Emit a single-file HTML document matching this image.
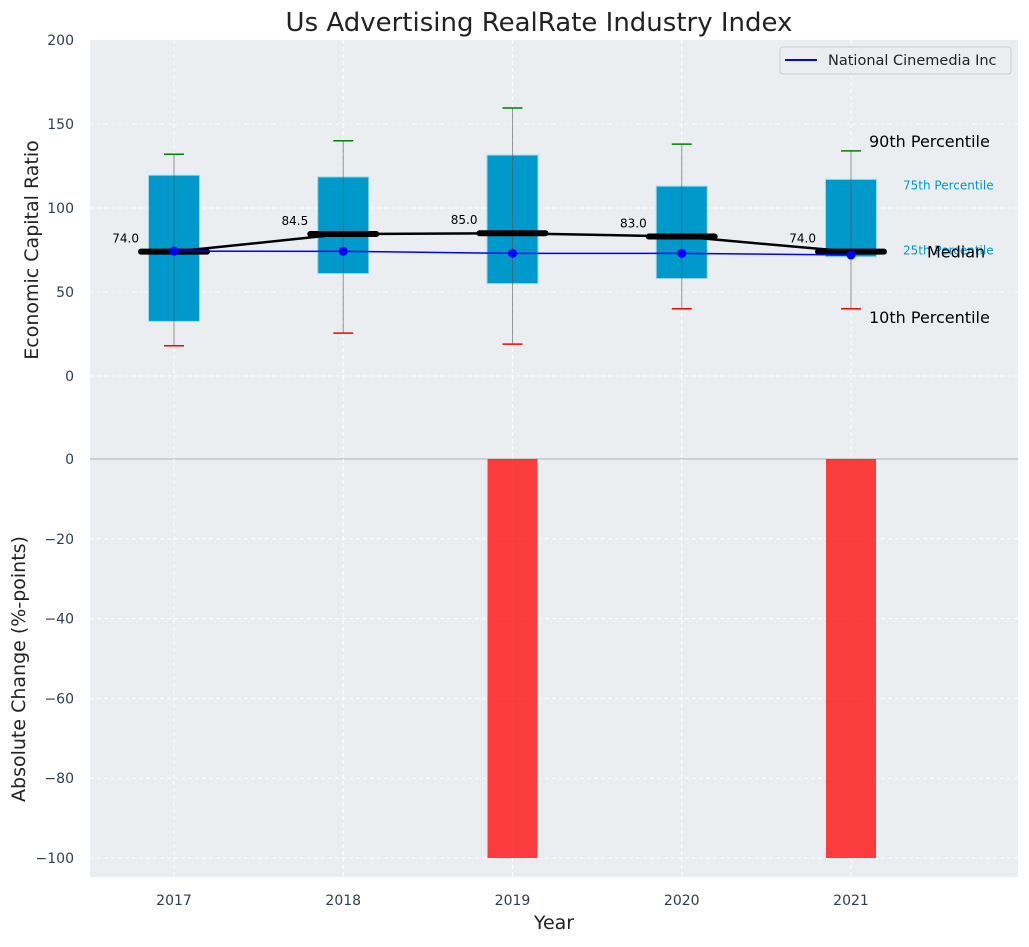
<!DOCTYPE html>
<html><head><meta charset="utf-8"><style>
body{margin:0;background:#fff;font-family:"Liberation Sans","DejaVu Sans",sans-serif}
svg text{font-family:"DejaVu Sans","Liberation Sans",sans-serif}
</style></head><body>
<svg id="c" width="1029" height="942" xmlns="http://www.w3.org/2000/svg"></svg>
<script>
const years=[2017,2018,2019,2020,2021];
const p10=[18,25.5,19,40,40];
const p25=[32.5,61,55,58,71];
const medians=[74,84.5,85,83,74];
const p75=[119.5,118.5,131.5,113,117];
const p90=[132,140,159.5,138,134];
const company=[74.3,74.2,73,73,72];
const changes=[0,0,-100,0,-100];
const topTicks=[0,50,100,150,200];
const botTicks=[0,-20,-40,-60,-80,-100];
const NS="http://www.w3.org/2000/svg";
const svg=document.getElementById('c');
const L=90,R=1018,T1=40,B1=459,B2=877;
const x=v=>174+169.25*(v-2017);
const yt=v=>376-1.68*v;
const yb=v=>459-3.99*v;
function el(t,a,txt){const e=document.createElementNS(NS,t);for(const k in a)e.setAttribute(k,a[k]);if(txt!==undefined)e.textContent=txt;svg.appendChild(e);return e;}
let e;
e=el('rect',{x:L,y:T1,width:R-L,height:B1-T1,fill:'#eaeef0'});

e=el('rect',{x:L,y:B1,width:R-L,height:B2-B1,fill:'#eaeef0'});

topTicks.forEach(t=>{if(t<200){e=el('line',{x1:L,x2:R,y1:yt(t),y2:yt(t),stroke:'#fff','stroke-dasharray':'4,3','stroke-width':1});}
 e=el('text',{x:74,y:yt(t)+5,'text-anchor':'end','font-size':14,fill:'#2e3e50'},t);
 });
botTicks.forEach(t=>{e=el('line',{x1:L,x2:R,y1:yb(t),y2:yb(t),stroke:t===0?'#b0b0b0':'#fff','stroke-dasharray':t===0?'':'4,3','stroke-width':1});
 e=el('text',{x:74,y:yb(t)+5,'text-anchor':'end','font-size':14,fill:'#2e3e50'},t===0?'0':'\u2212'+(-t));
 });
years.forEach(yr=>{[[T1,B1],[B1,B2]].forEach(([a,b])=>{e=el('line',{x1:x(yr),x2:x(yr),y1:a,y2:b,stroke:'#fff','stroke-dasharray':'4,3'});});
 e=el('text',{x:x(yr),y:905,'text-anchor':'middle','font-size':14,fill:'#2e3e50'},yr);
 });
years.forEach((yr,i)=>{const cx=x(yr);
 e=el('rect',{x:cx-25.5,y:yt(p75[i]),width:51,height:yt(p25[i])-yt(p75[i]),fill:'#0099cc',stroke:'#9fd6e8','stroke-width':1});
 
 e=el('line',{x1:cx,x2:cx,y1:yt(p90[i]),y2:yt(p10[i]),stroke:'#555','stroke-opacity':0.6,'stroke-width':1});
 
 e=el('line',{x1:cx-10,x2:cx+10,y1:yt(p90[i]),y2:yt(p90[i]),stroke:'green','stroke-width':1.5});
 
 e=el('line',{x1:cx-10,x2:cx+10,y1:yt(p10[i]),y2:yt(p10[i]),stroke:'red','stroke-width':1.5});
 
});
e=el('polyline',{points:years.map((yr,i)=>x(yr)+','+yt(medians[i])).join(' '),fill:'none',stroke:'#000','stroke-width':2.5});

years.forEach((yr,i)=>{const cx=x(yr);
 e=el('line',{x1:cx-33,x2:cx+33,y1:yt(medians[i]),y2:yt(medians[i]),stroke:'#000','stroke-width':6,'stroke-linecap':'round'});
 
 e=el('text',{x:cx-35,y:yt(medians[i])-9,'text-anchor':'end','font-size':12,fill:'#000'},medians[i].toFixed(1));
 });
e=el('polyline',{points:years.map((yr,i)=>x(yr)+','+yt(company[i])).join(' '),fill:'none',stroke:'#0000ff','stroke-width':1.5});

years.forEach((yr,i)=>{e=el('circle',{cx:x(yr),cy:yt(company[i]),r:4.5,fill:'#0000ff'});
 });
const li=4;
[['90th Percentile',869,yt(p90[li])-4,16,'#000'],['75th Percentile',903,yt(p75[li])+10,12,'#0099cc'],['25th Percentile',903,yt(p25[li])-2,12,'#0099cc'],['Median',927,yt(medians[li])+6,16,'#000'],['10th Percentile',869,yt(p10[li])+14,16,'#000']].forEach(a=>{
 e=el('text',{x:a[1],y:a[2],'font-size':a[3],fill:a[4]},a[0]);
 });
years.forEach((yr,i)=>{if(changes[i]!==0){const y0=yb(0),y1=yb(changes[i]);
 e=el('rect',{x:x(yr)-25,y:Math.min(y0,y1),width:50,height:Math.abs(y1-y0),fill:'#ff0000','fill-opacity':0.75});
 }});
e=el('rect',{x:780,y:47,width:231,height:27,rx:3,fill:'#eaeef0',stroke:'#ccc'});

e=el('line',{x1:785,x2:817,y1:60,y2:60,stroke:'#0000ff','stroke-width':2});

e=el('text',{x:828,y:65,'font-size':14.5,fill:'#222'},'National Cinemedia Inc');

e=el('text',{x:539,y:31,'text-anchor':'middle','font-size':26,fill:'#222'},'Us Advertising RealRate Industry Index');

e=el('text',{x:554,y:929,'text-anchor':'middle','font-size':19,fill:'#222'},'Year');

e=el('text',{x:0,y:0,'text-anchor':'middle','font-size':19,fill:'#222',transform:'translate(38,250) rotate(-90)'},'Economic Capital Ratio');

e=el('text',{x:0,y:0,'text-anchor':'middle','font-size':19,fill:'#222',transform:'translate(25,669) rotate(-90)'},'Absolute Change (%-points)');

</script>
</body></html>
